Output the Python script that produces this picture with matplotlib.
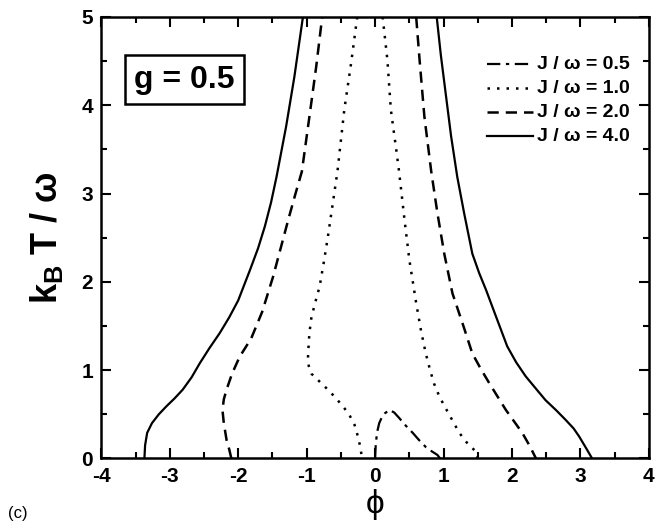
import matplotlib
matplotlib.use('Agg')
import matplotlib.pyplot as plt
import numpy as np

plt.rcParams['font.family'] = ['Liberation Sans', 'DejaVu Sans']
plt.rcParams['mathtext.fontset'] = 'custom'
plt.rcParams['mathtext.rm'] = 'Liberation Sans'
plt.rcParams['mathtext.bf'] = 'Liberation Sans:bold'
plt.rcParams['axes.unicode_minus'] = False

# Phase boundaries k_B T / w vs phi for g = 0.5
# J/w = 4.0
j4_left_x = [-3.37, -3.36, -3.33, -3.26, -3.16, -3.05, -2.93, -2.81, -2.68, -2.56, -2.42, -2.27, -2.13, -2.00, -1.83, -1.71, -1.61, -1.52, -1.44, -1.30, -1.18, -1.06, -1.05]
j4_left_y = [0.00, 0.15, 0.29, 0.40, 0.50, 0.59, 0.68, 0.78, 0.92, 1.08, 1.25, 1.42, 1.60, 1.79, 2.13, 2.38, 2.63, 2.90, 3.19, 3.76, 4.32, 4.97, 5.00]
j4_right_x = [0.90, 0.96, 1.03, 1.11, 1.20, 1.30, 1.42, 1.52, 1.62, 1.76, 1.93, 2.06, 2.20, 2.35, 2.49, 2.64, 2.78, 2.90, 2.98, 3.08, 3.17]
j4_right_y = [5.00, 4.57, 4.14, 3.65, 3.19, 2.78, 2.32, 2.10, 1.91, 1.62, 1.27, 1.09, 0.93, 0.79, 0.66, 0.55, 0.44, 0.34, 0.25, 0.12, 0.00]

# J/w = 2.0
j2_left_x = [-2.10, -2.13, -2.17, -2.21, -2.23, -2.21, -2.17, -2.09, -1.98, -1.81, -1.65, -1.49, -1.38, -1.27, -1.17, -1.07, -0.96, -0.86, -0.79, -0.77]
j2_left_y = [0.00, 0.10, 0.21, 0.40, 0.55, 0.67, 0.78, 0.96, 1.15, 1.36, 1.66, 2.06, 2.38, 2.70, 2.98, 3.25, 3.87, 4.44, 4.89, 5.00]
j2_right_x = [0.60, 0.65, 0.72, 0.82, 0.91, 1.01, 1.13, 1.29, 1.42, 1.54, 1.67, 1.79, 1.91, 2.03, 2.15, 2.26, 2.35]
j2_right_y = [5.00, 4.51, 3.87, 3.25, 2.78, 2.32, 1.87, 1.50, 1.19, 1.02, 0.85, 0.70, 0.55, 0.42, 0.29, 0.14, 0.00]

# J/w = 1.0
j1_left_x = [-0.20, -0.24, -0.30, -0.38, -0.47, -0.58, -0.69, -0.81, -0.93, -0.97, -0.98, -0.97, -0.96, -0.93, -0.87, -0.81, -0.75, -0.69, -0.62, -0.55, -0.45, -0.35, -0.28, -0.26]
j1_left_y = [0.05, 0.22, 0.38, 0.50, 0.59, 0.69, 0.78, 0.87, 0.96, 1.05, 1.15, 1.30, 1.42, 1.60, 1.78, 1.95, 2.22, 2.51, 2.88, 3.25, 3.95, 4.48, 4.89, 5.00]
j1_right_x = [0.11, 0.18, 0.23, 0.31, 0.35, 0.43, 0.50, 0.60, 0.67, 0.74, 0.80, 0.86, 0.94, 1.03, 1.13, 1.23, 1.35, 1.47, 1.50]
j1_right_y = [5.00, 4.51, 3.95, 3.49, 3.25, 2.70, 2.25, 1.76, 1.45, 1.19, 1.01, 0.85, 0.70, 0.57, 0.43, 0.29, 0.17, 0.08, 0.00]

# J/w = 0.5
j05_x = [0.00, 0.01, 0.03, 0.06, 0.10, 0.14, 0.21, 0.28, 0.35, 0.45, 0.55, 0.64, 0.74, 0.83, 0.91, 0.95]
j05_y = [0.00, 0.17, 0.30, 0.40, 0.47, 0.51, 0.55, 0.52, 0.46, 0.37, 0.29, 0.21, 0.13, 0.08, 0.04, 0.00]

labels = ['J / ω = 0.5', 'J / ω = 1.0', 'J / ω = 2.0', 'J / ω = 4.0']

fig = plt.figure(figsize=(6.69, 5.29), dpi=100)
ax = fig.add_axes([0.1514, 0.1333, 0.8186, 0.8346])

ls05 = (0, (6, 2.5, 1.5, 2.5))
lsdot = (0, (1, 2.8))
lsdash = (0, (4.5, 2.8))

ax.plot(j05_x, j05_y, color='black', lw=1.6, ls=ls05, label=labels[0])
ax.plot(j1_left_x, j1_left_y, color='black', lw=1.8, ls=lsdot, label=labels[1])
ax.plot(j1_right_x, j1_right_y, color='black', lw=1.8, ls=lsdot)
ax.plot(j2_left_x, j2_left_y, color='black', lw=1.8, ls=lsdash, label=labels[2])
ax.plot(j2_right_x, j2_right_y, color='black', lw=1.8, ls=lsdash)
ax.plot(j4_left_x, j4_left_y, color='black', lw=1.6, ls='-', label=labels[3])
ax.plot(j4_right_x, j4_right_y, color='black', lw=1.6, ls='-')

ax.set_xlim(-4, 4)
ax.set_ylim(0, 5)
ax.set_xticks(np.arange(-4, 5, 1))
ax.set_yticks(np.arange(0, 6, 1))
ax.set_xticks(np.arange(-3.5, 4, 1), minor=True)
ax.set_yticks(np.arange(0.5, 5, 1), minor=True)
ax.tick_params(which='both', direction='in', top=True, right=True, width=1.5)
ax.tick_params(which='major', length=7, labelsize=15, pad=6)
ax.tick_params(which='minor', length=4)
for lab in ax.get_xticklabels() + ax.get_yticklabels():
    lab.set_fontweight('bold')
for sp in ax.spines.values():
    sp.set_linewidth(1.8)

ax.set_xlabel('ϕ', fontsize=24, labelpad=2)
ax.set_ylabel(r'$\mathbf{k_B}$ T / ω', fontsize=26, fontweight='bold', labelpad=12)

ax.text(0.06, 0.858, 'g = 0.5', transform=ax.transAxes, fontsize=23, fontweight='bold', va='center',
        bbox=dict(boxstyle='square,pad=0.3', facecolor='white', edgecolor='black', lw=1.8))

leg = ax.legend(loc='upper right', bbox_to_anchor=(0.98, 0.93), frameon=False, handlelength=3.3,
                handletextpad=0.3, labelspacing=0.5, borderaxespad=0.2)
for t in leg.get_texts():
    t.set_fontweight('bold')
    t.set_fontsize(14)

fig.text(0.012, 0.02, '(c)', fontsize=12)

fig.savefig('out.png', dpi=100)
